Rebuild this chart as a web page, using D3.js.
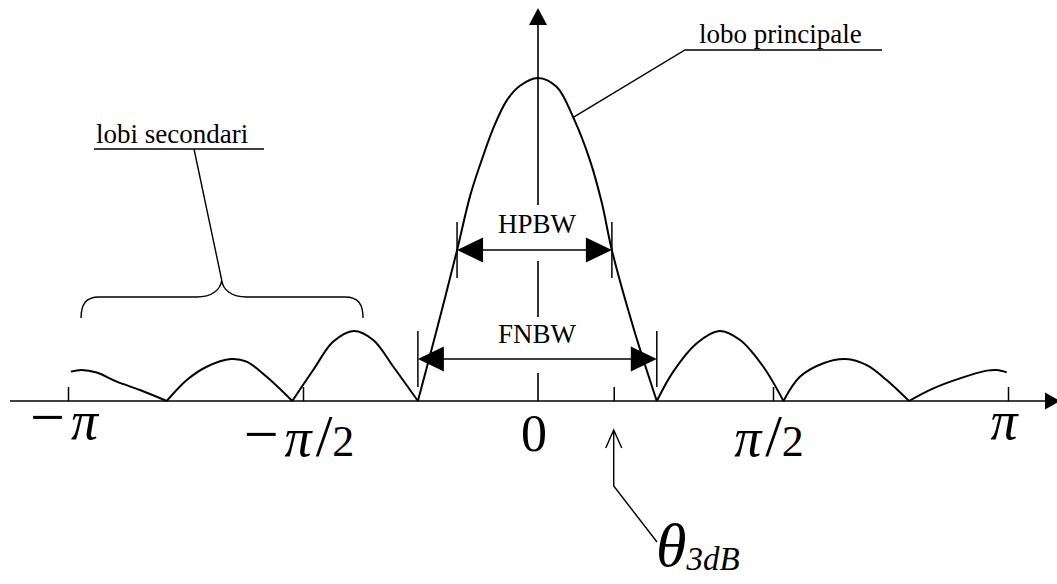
<!DOCTYPE html>
<html>
<head>
<meta charset="utf-8">
<script src="https://cdn.jsdelivr.net/npm/d3@7"></script>
<style>
  body { margin: 0; background: #fff; }
  svg { display: block; font-family: "Liberation Serif", "Times New Roman", serif; }
</style>
</head>
<body>
<svg></svg>
<script>
// pattern: [angle in degrees, amplitude relative to main peak]
const lobeLeft3 = [[-178.9, 0.091], [-174.8, 0.096], [-169.0, 0.088], [-161.3, 0.060], [-152.4, 0.034], [-142.2, 0]];
const lobeLeft2 = [[-142.2, 0], [-134.5, 0.065], [-126.9, 0.106], [-117.6, 0.130], [-111.6, 0.122], [-103.9, 0.075], [-94.1, 0]];
const lobeLeft1 = [[-94.1, 0], [-86.1, 0.096], [-78.4, 0.184], [-70.5, 0.217], [-63.1, 0.189], [-55.4, 0.106], [-46.0, 0]];
const mainLobe = [[-46.0, 0], [-38.8, 0.220], [-31.0, 0.467], [-26.0, 0.635], [-21.6, 0.745], [-17.1, 0.845], [-12.0, 0.930], [-6.9, 0.976], [0, 1], [7.2, 0.972], [13.5, 0.878], [19.9, 0.745], [24.4, 0.615], [28.3, 0.467], [36.8, 0.220], [45.5, 0]];
const lobeRight1 = [[45.5, 0], [51.8, 0.091], [60.8, 0.179], [69.4, 0.217], [77.4, 0.189], [86.3, 0.106], [94.0, 0]];
const lobeRight2 = [[94.0, 0], [100.3, 0.075], [109.3, 0.117], [117.9, 0.130], [125.9, 0.111], [133.5, 0.065], [142.1, 0]];
const lobeRight3 = [[142.1, 0], [151.4, 0.039], [161.6, 0.070], [171.9, 0.094], [175.7, 0.096], [179.5, 0.089]];

const lobes = [lobeLeft3, lobeLeft2, lobeLeft1, mainLobe, lobeRight1, lobeRight2, lobeRight3];

const tickValues = [-180, -90, 0, 90, 180];
const tickLabels = ["−π", "−π/2", "0", "π/2", "π"];

const hpbw = [-31.0, 28.3];
const fnbw = [-46.0, 45.5];
const theta3dB = 29;
const sideLobeSpan = [-175, -67];

const svg = d3.select("svg").attr("width", 1057).attr("height", 584);

const axisY = 401;

// prettier-ignore
const xScale = d3.scaleLinear()
    .domain([-180, 180])
    .range([68, 1008])

// prettier-ignore
const yScale = d3.scaleLinear()
    .domain([0, 1])
    .range([axisY, 78])

const arrowHead = (g, tip, dir, len, half) => {
  const [tx, ty] = tip;
  const [dx, dy] = dir;
  const bx = tx - dx * len, by = ty - dy * len;
  const pts = [[tx, ty], [bx - dy * half, by + dx * half], [bx + dy * half, by - dx * half]];
  g.append("path").attr("d", "M" + pts.join("L") + "Z").attr("fill", "#000");
};

// horizontal axis with arrow
svg.append("line")
  .attr("x1", 10).attr("x2", 1046)
  .attr("y1", axisY).attr("y2", axisY)
  .attr("stroke", "#000").attr("stroke-width", 1.6);
arrowHead(svg, [1060, axisY], [1, 0], 15, 8.5);

// vertical axis with arrow
const x0 = xScale(0);
svg.append("line")
  .attr("x1", x0).attr("x2", x0)
  .attr("y1", axisY).attr("y2", 24)
  .attr("stroke", "#000").attr("stroke-width", 1.6);
arrowHead(svg, [x0, 8], [0, -1], 17, 9);

// tick marks (pointing up)
// prettier-ignore
const tickAxis = d3.axisBottom(xScale)
    .tickValues(tickValues.filter(d => d !== 0).concat([theta3dB]))
    .tickSize(-14)
    .tickSizeOuter(0)
    .tickFormat("")

// prettier-ignore
svg.append("g")
    .attr("transform", `translate(0, ${axisY})`)
    .call(tickAxis)
    .call(g => g.select(".domain").remove())
    .call(g => g.selectAll(".tick line").attr("stroke", "#000").attr("stroke-width", 1.5))

// tick labels
const labelBaseline = (d, i) => {
  if (i === 0 || i === tickLabels.length - 1) return 439;
  if (d === "0") return 451;
  return 456;
};

// prettier-ignore
const labels = svg.append("g")
    .selectAll("text")
    .data(tickLabels)
    .join("text")
    .attr("x", (d, i) => xScale(tickValues[i]) - 4)
    .attr("y", (d, i) => labelBaseline(d, i))
    .attr("text-anchor", "middle")

labels.each(function (d) {
  const t = d3.select(this);
  let shift = 0, gap = 0;
  for (const ch of d) {
    const span = t.append("tspan").text(ch);
    if (ch === "−") {
      span.attr("font-size", 62).attr("dy", -1);
      shift = 1;
      gap = 6;
    } else if (ch === "π") {
      span.attr("font-size", 54).attr("font-style", "italic").attr("dy", shift).attr("dx", gap);
      shift = 0;
      gap = 4;
    } else if (ch === "/") {
      span.attr("font-size", 60).attr("dy", shift).attr("dx", gap);
      shift = 0;
      gap = 0;
    } else if (ch === "0") {
      span.attr("font-size", 52);
    } else {
      span.attr("font-size", 44).attr("dy", shift).attr("dx", gap);
      shift = 0;
      gap = 0;
    }
  }
});

// white boxes behind the width labels, cutting the vertical axis
svg.append("rect").attr("x", 490).attr("y", 205).attr("width", 95).attr("height", 56).attr("fill", "#fff");
svg.append("rect").attr("x", 490).attr("y", 317).attr("width", 95).attr("height", 56).attr("fill", "#fff");

// prettier-ignore
const line = d3.line()
    .x(d => xScale(d[0]))
    .y(d => yScale(d[1]))
    .curve(d3.curveCatmullRom.alpha(0.5))

// prettier-ignore
svg.append("g")
    .selectAll("path")
    .data(lobes)
    .join("path")
    .attr("d", d => line(d))
    .attr("fill", "none")
    .attr("stroke", "#000")
    .attr("stroke-width", 2)
    .attr("stroke-linejoin", "round")

// width markers
const widthMarker = (range, yLine, label, labelY) => {
  const g = svg.append("g");
  const [a, b] = range.map(xScale);
  g.selectAll("line.edge")
    .data([a, b])
    .join("line")
    .attr("class", "edge")
    .attr("x1", d => d).attr("x2", d => d)
    .attr("y1", yLine - 28).attr("y2", yLine + 28)
    .attr("stroke", "#000").attr("stroke-width", 1.5);
  g.append("line")
    .attr("x1", a + 20).attr("x2", b - 20)
    .attr("y1", yLine).attr("y2", yLine)
    .attr("stroke", "#000").attr("stroke-width", 1.5);
  arrowHead(g, [a, yLine], [-1, 0], 26, 12.5);
  arrowHead(g, [b, yLine], [1, 0], 26, 12.5);
  g.append("text")
    .attr("x", x0 - 1).attr("y", labelY)
    .attr("text-anchor", "middle")
    .attr("font-size", 27)
    .text(label);
};
widthMarker(hpbw, 250, "HPBW", 233);
widthMarker(fnbw, 359, "FNBW", 343);

// main lobe label
const leaderPt = mainLobe[10];
svg.append("path")
  .attr("d", `M${xScale(leaderPt[0])},${yScale(leaderPt[1])}L685,50L882,50`)
  .attr("fill", "none").attr("stroke", "#000").attr("stroke-width", 1.4);
svg.append("text")
  .attr("x", 699).attr("y", 43)
  .attr("font-size", 27)
  .text("lobo principale");

// side lobes label with brace
const bl = xScale(sideLobeSpan[0]), br = xScale(sideLobeSpan[1]);
const tipX = 221.7, tipY = 280, braceY = 297;
svg.append("path")
  .attr("d", `M${bl},318 C${bl},304 ${bl + 5},${braceY} ${bl + 18},${braceY} L${tipX - 25},${braceY} C${tipX - 10},${braceY} ${tipX - 1},${braceY - 7} ${tipX},${tipY} C${tipX + 1},${braceY - 7} ${tipX + 10},${braceY} ${tipX + 25},${braceY} L${br - 18},${braceY} C${br - 5},${braceY} ${br},304 ${br},318`)
  .attr("fill", "none").attr("stroke", "#000").attr("stroke-width", 1.4);
svg.append("path")
  .attr("d", `M94,149L264,149M194,149L${tipX},${tipY}`)
  .attr("fill", "none").attr("stroke", "#000").attr("stroke-width", 1.4);
svg.append("text")
  .attr("x", 96).attr("y", 143)
  .attr("font-size", 27)
  .text("lobi secondari");

// theta 3dB pointer
const xt = xScale(theta3dB);
svg.append("path")
  .attr("d", `M${xt},430L${xt},486L657,542M${xt - 8},448L${xt},430L${xt + 8},448`)
  .attr("fill", "none").attr("stroke", "#000").attr("stroke-width", 1.4);
const thetaText = svg.append("text").attr("x", 656).attr("y", 566);
thetaText.append("tspan").attr("font-size", 62).attr("font-style", "italic").text("θ");
thetaText.append("tspan").attr("font-size", 33).attr("font-style", "italic").attr("dy", 4).text("3dB");
</script>
</body>
</html>
